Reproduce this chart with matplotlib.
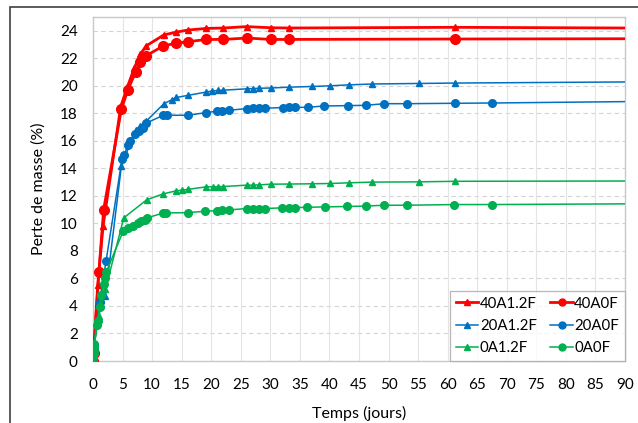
import matplotlib
matplotlib.use('Agg')
import matplotlib.pyplot as plt
from matplotlib.patches import Rectangle
from matplotlib.lines import Line2D

plt.rcParams['font.family'] = ['Lato', 'DejaVu Sans']

# temps (jours) / perte de masse (%) ; last point at 90 = curve end, no marker
t_40A12F = [0, 0.1, 0.8, 1.7, 4.7, 5.8, 7.0, 8.0, 9.0, 12.0, 14.1, 16.0, 19.2, 22.0, 26.0, 30.1, 33.1, 61.2, 90]
m_40A12F = [0, 0.5, 5.5, 9.8, 18.5, 19.9, 21.3, 22.3, 22.9, 23.7, 23.9, 24.05, 24.17, 24.2, 24.3, 24.22, 24.2, 24.25, 24.2]

t_40A0F = [0, 0.1, 1.0, 1.8, 4.8, 5.9, 7.2, 8.0, 9.05, 11.9, 14.1, 16.0, 19.2, 22.0, 26.05, 30.1, 33.2, 61.2, 90]
m_40A0F = [0, 0.6, 6.5, 11.0, 18.3, 19.7, 21.0, 21.7, 22.2, 22.9, 23.1, 23.2, 23.37, 23.37, 23.47, 23.37, 23.37, 23.4, 23.42]

t_20A12F = [0, 0.2, 1.0, 2.1, 4.8, 7.2, 8.0, 9.05, 12.0, 13.4, 14.1, 16.0, 19.2, 20.2, 21.1, 22.0,
            26.0, 27.1, 28.1, 30.1, 33.1, 37.1, 40.1, 43.35, 47.2, 55.15, 61.3, 90]
m_20A12F = [0, 1.0, 4.2, 4.7, 14.16, 16.8, 17.1, 17.45, 18.7, 19.0, 19.15, 19.3, 19.55, 19.62, 19.66, 19.68,
            19.78, 19.8, 19.82, 19.84, 19.9, 19.95, 20.0, 20.07, 20.13, 20.17, 20.2, 20.28]

t_20A0F = [0, 0.2, 1.1, 2.2, 4.9, 5.3, 5.9, 6.2, 7.07, 7.8, 8.4, 8.9, 11.9, 12.5, 16.0, 19.1, 20.9, 21.9, 23.05,
           26.05, 27.1, 28.1, 29.1, 32.1, 33.1, 34.1, 36.3, 39.1, 43.1, 46.1, 49.3, 53.2, 61.2, 67.5, 90]
m_20A0F = [0, 1.1, 4.3, 7.24, 14.65, 15.0, 15.7, 16.0, 16.47, 16.7, 16.9, 17.27, 17.86, 17.86, 17.86, 18.05, 18.15, 18.2, 18.22,
           18.35, 18.38, 18.37, 18.37, 18.42, 18.43, 18.43, 18.44, 18.53, 18.56, 18.58, 18.7, 18.7, 18.73, 18.75, 18.85]

t_0A12F = [0, 0.2, 1.0, 2.1, 5.2, 9.1, 11.9, 14.1, 15.1, 16.0, 19.2, 20.3, 21.1, 22.0, 26.05, 27.1, 28.1,
           30.1, 33.1, 37.1, 40.1, 43.35, 47.2, 55.15, 61.3, 90]
m_0A12F = [0, 1.1, 3.3, 5.2, 10.4, 11.72, 12.15, 12.37, 12.42, 12.47, 12.66, 12.66, 12.67, 12.68, 12.78, 12.78, 12.8,
           12.85, 12.86, 12.88, 12.9, 12.95, 13.0, 13.02, 13.06, 13.08]

t_0A0F = [0, 0.05, 0.1, 0.15, 0.2, 0.6, 0.85, 1.1, 1.4, 1.8, 2.0, 2.27, 5.1, 5.9, 6.8, 7.6, 8.2, 8.76, 9.15,
          11.9, 12.4, 16.0, 18.9, 20.9, 21.9, 23.0, 26.0, 27.1, 28.1, 29.1, 31.9, 33.1, 34.1, 36.2, 39.2,
          43.0, 46.1, 49.3, 53.2, 61.1, 67.5, 90]
m_0A0F = [0, 0.3, 0.6, 0.9, 1.2, 2.6, 2.9, 3.9, 4.8, 5.6, 6.0, 6.5, 9.43, 9.67, 9.84, 10.0, 10.15, 10.28, 10.4,
          10.76, 10.76, 10.78, 10.88, 10.93, 10.98, 10.98, 11.08, 11.08, 11.08, 11.08, 11.13, 11.15, 11.15, 11.17, 11.2,
          11.23, 11.26, 11.32, 11.32, 11.37, 11.37, 11.42]

RED = '#FF0000'
BLUE = '#0070C0'
GREEN = '#00B050'

fig = plt.figure(figsize=(6.38, 4.23), dpi=100)
fig.patches.append(Rectangle((10 / 638, -0.05), 1.0, 1 - 7 / 423 + 0.05, transform=fig.transFigure,
                             fill=False, edgecolor='#404040', linewidth=1.2))
ax = fig.add_axes([93 / 638, 62 / 423, 532 / 638, 344 / 423])

series = [
    (t_40A12F, m_40A12F, RED, '^', 4.5, 2.0, '40A1.2F'),
    (t_40A0F, m_40A0F, RED, 'o', 7.0, 2.0, '40A0F'),
    (t_20A12F, m_20A12F, BLUE, '^', 5.0, 1.1, '20A1.2F'),
    (t_20A0F, m_20A0F, BLUE, 'o', 5.5, 1.1, '20A0F'),
    (t_0A12F, m_0A12F, GREEN, '^', 4.5, 1.1, '0A1.2F'),
    (t_0A0F, m_0A0F, GREEN, 'o', 5.5, 1.1, '0A0F'),
]
handles = {}
for t, m, c, mk, ms, lw, lab in series:
    ax.plot(t, m, color=c, marker=mk, markersize=ms, linewidth=lw,
            markevery=list(range(len(t) - 1)), zorder=3)
    # legend shows small markers
    handles[lab] = Line2D([], [], color=c, marker=mk, markersize=5 if mk == 'o' else 4.5, linewidth=lw)

ax.set_xlim(0, 90)
ax.set_ylim(0, 25)
ax.set_xticks(range(0, 91, 5))
ax.set_yticks(range(0, 25, 2))
for y in range(2, 25, 2):
    ax.axhline(y, color='#d4d4d4', linewidth=0.8, linestyle=(0, (4, 3)), zorder=1)
for x in range(5, 90, 5):
    ax.axvline(x, color='#e4e4e4', linewidth=0.8, zorder=1)
for s in ax.spines.values():
    s.set_color('#c8c8c8')
    s.set_linewidth(1.0)
ax.tick_params(length=0, labelsize=11, colors='black')
ax.tick_params(axis='x', pad=12)
ax.tick_params(axis='y', pad=11)
ax.set_xlabel('Temps (jours)', fontsize=11.5, labelpad=10)
ax.set_ylabel('Perte de masse (%)', fontsize=11.5, labelpad=10)

order = ['40A1.2F', '20A1.2F', '0A1.2F', '40A0F', '20A0F', '0A0F']
leg = ax.legend([handles[k] for k in order], order, loc='lower right', ncol=2, fontsize=10.8,
                frameon=True, fancybox=False, borderaxespad=0, handlelength=1.5,
                handletextpad=0.1, columnspacing=0.9, labelspacing=0.55, borderpad=0.4)
leg.get_frame().set_edgecolor('#a6a6a6')
leg.get_frame().set_linewidth(0.9)

fig.savefig('out.png', dpi=100)
